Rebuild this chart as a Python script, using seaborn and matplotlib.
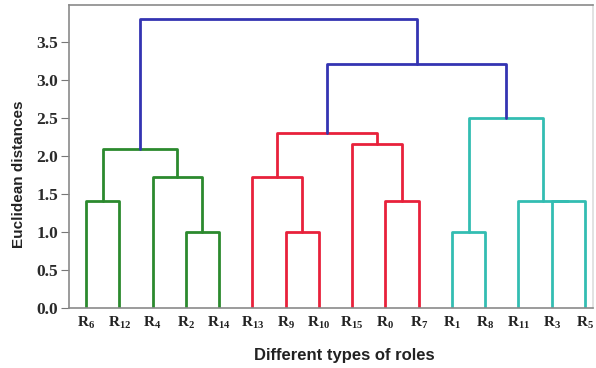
import matplotlib
matplotlib.use("Agg")
import matplotlib.pyplot as plt
import seaborn as sns
import numpy as np

# Leaf names in dendrogram display order (subscripts of R)
leaves = ["6", "12", "4", "2", "14", "13", "9", "10", "15", "0", "7", "1", "8", "11", "3", "5"]

# Agglomeration steps: ids 0..15 are leaves, each merge creates id 16, 17, ...
merge_left = [0, 3, 2, 16, 6, 5, 9, 8, 21, 11, 14, 13, 25, 24, 19]
merge_right = [1, 4, 17, 18, 7, 20, 10, 22, 23, 12, 15, 26, 27, 28, 29]
merge_height = [1.41, 1.00, 1.72, 2.09, 1.00, 1.72, 1.41, 2.16, 2.31, 1.00, 1.41, 1.41, 2.50, 3.21, 3.80]
merge_group = ["g", "g", "g", "g", "r", "r", "r", "r", "r", "c", "c", "c", "c", "b", "b"]

palette = {"g": "#2b8a2e", "r": "#e8213b", "c": "#33bdb2", "b": "#3434b2"}

sns.set_theme(style="white")
plt.rcParams["mathtext.fontset"] = "custom"
plt.rcParams["mathtext.bf"] = "Liberation Serif:bold"
plt.rcParams["mathtext.rm"] = "Liberation Serif:bold"

fig = plt.figure(figsize=(5.96, 3.68), dpi=100)
W, H = 596, 368
left, right, top, bottom = 69, 593, 5, 308
ax = fig.add_axes([left / W, 1 - bottom / H, (right - left) / W, (bottom - top) / H])

# x position and height of every node
pos = {i: float(i) for i in range(len(leaves))}
hgt = {i: 0.0 for i in range(len(leaves))}
for k, (a, b, h, g) in enumerate(zip(merge_left, merge_right, merge_height, merge_group)):
    node = len(leaves) + k
    xa, xb = pos[a], pos[b]
    xs = [xa, xa, xb, xb]
    ys = [hgt[a], h, h, hgt[b]]
    sns.lineplot(x=xs, y=ys, sort=False, estimator=None, color=palette[g],
                 linewidth=2.0, ax=ax, legend=False)
    pos[node] = (xa + xb) / 2
    hgt[node] = h

ax.set_xlim(-0.51, 15.24)
ax.set_ylim(0, 3.99)
ticks = np.arange(0, 3.6, 0.5)
ax.set_yticks(ticks)
ax.set_yticklabels([f"{v:.1f}" for v in ticks],
                   fontfamily="Liberation Serif", fontweight="bold", fontsize=12.5,
                   color="#2a2a2a")
ax.set_xticks(range(len(leaves)))
ax.set_xticklabels([r"$\mathbf{R_{%s}}$" % s for s in leaves], fontsize=11, color="#222222")
ax.tick_params(axis="y", which="both", left=True, length=6, width=0.8, color="#777777", pad=2)
ax.tick_params(axis="x", bottom=False, pad=-1)

for side in ["left", "bottom", "top", "right"]:
    ax.spines[side].set_color("#8a8a8a")
    ax.spines[side].set_linewidth(1.2)
ax.spines["right"].set_color("#dddddd")

ax.set_ylabel("Euclidean distances", fontfamily="Liberation Sans", fontweight="bold",
              fontsize=11, color="#222222")
ax.yaxis.set_label_coords(-0.082, 0.44)
ax.set_xlabel("Different types of roles", fontfamily="Liberation Sans", fontweight="bold",
              fontsize=12, color="#222222")
ax.xaxis.set_label_coords(0.525, -0.133)
ax.grid(False)

fig.savefig("out.png", dpi=100, facecolor="white")
